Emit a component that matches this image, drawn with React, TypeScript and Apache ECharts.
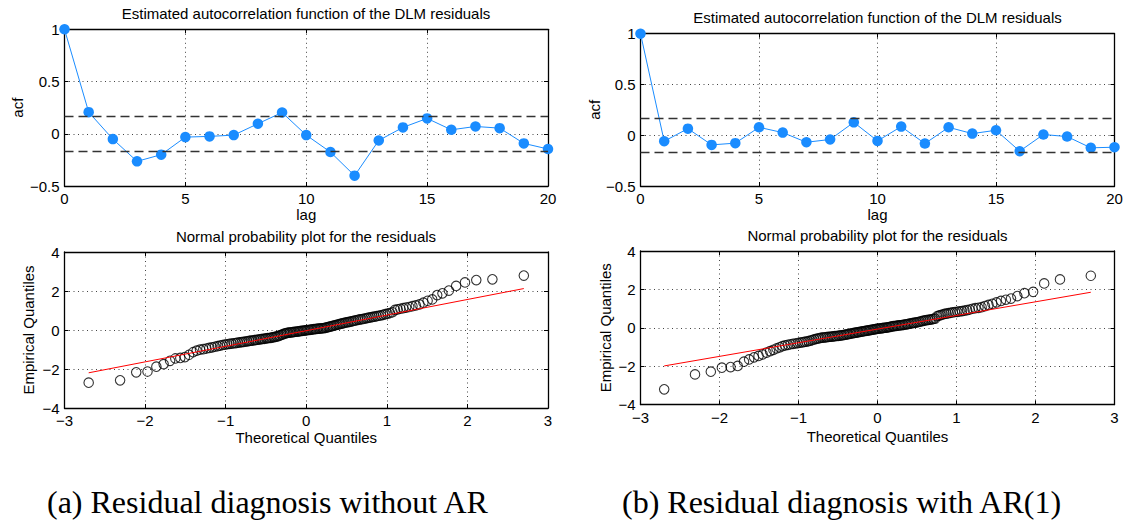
import React, { useEffect, useRef } from "react";
import * as echarts from "echarts";

// ---------- data ----------
const lags = [0, 1, 2, 3, 4, 5, 6, 7, 8, 9, 10, 11, 12, 13, 14, 15, 16, 17, 18, 19, 20];
const acfWithoutAR = [1, 0.207, -0.051, -0.264, -0.2, -0.032, -0.025, -0.013, 0.096, 0.204, -0.013, -0.175, -0.401, -0.064, 0.061, 0.147, 0.038, 0.07, 0.054, -0.092, -0.146];
const acfWithAR1 = [1, -0.059, 0.065, -0.095, -0.078, 0.078, 0.026, -0.069, -0.042, 0.127, -0.056, 0.085, -0.082, 0.078, 0.016, 0.049, -0.157, 0.007, -0.013, -0.124, -0.118];
const confBounds = [0.166, 0.168];

const theoreticalQuantiles = [
  -2.7, -2.31, -2.11, -1.97, -1.86, -1.77, -1.69, -1.625, -1.563, -1.506,
  -1.454, -1.405, -1.36, -1.318, -1.278, -1.239, -1.203, -1.168, -1.134, -1.101,
  -1.07, -1.039, -1.01, -0.981, -0.953, -0.926, -0.9, -0.874, -0.849, -0.824,
  -0.8, -0.776, -0.753, -0.731, -0.708, -0.686, -0.664, -0.643, -0.621, -0.6,
  -0.579, -0.559, -0.538, -0.518, -0.498, -0.479, -0.459, -0.44, -0.421, -0.402,
  -0.383, -0.365, -0.346, -0.328, -0.309, -0.291, -0.273, -0.255, -0.237, -0.219,
  -0.201, -0.184, -0.166, -0.148, -0.131, -0.113, -0.096, -0.078, -0.061, -0.044,
  -0.026, -0.009,
  0.009, 0.026, 0.044, 0.061, 0.078, 0.096, 0.113, 0.131, 0.148, 0.166,
  0.184, 0.201, 0.219, 0.237, 0.255, 0.273, 0.291, 0.309, 0.328, 0.346,
  0.365, 0.383, 0.402, 0.421, 0.44, 0.459, 0.479, 0.498, 0.518, 0.538,
  0.559, 0.579, 0.6, 0.621, 0.643, 0.664, 0.686, 0.708, 0.731, 0.753,
  0.776, 0.8, 0.824, 0.849, 0.874, 0.9, 0.926, 0.953, 0.981, 1.01,
  1.039, 1.07, 1.101, 1.134, 1.168, 1.203, 1.239, 1.278, 1.318, 1.36,
  1.405, 1.454, 1.506, 1.563, 1.625, 1.69, 1.77, 1.86, 1.97, 2.11,
  2.31, 2.7,
];

const residualsWithoutAR = [
  -2.7, -2.58, -2.17, -2.13, -1.88, -1.75, -1.58, -1.46, -1.43, -1.39,
  -1.27, -1.14, -1.06, -1.01, -0.98, -0.95, -0.92, -0.89, -0.86, -0.83,
  -0.8, -0.77, -0.75, -0.73, -0.71, -0.7, -0.68, -0.67, -0.65, -0.64,
  -0.62, -0.61, -0.59, -0.58, -0.56, -0.55, -0.54, -0.52, -0.51, -0.5,
  -0.48, -0.47, -0.46, -0.45, -0.43, -0.42, -0.41, -0.4, -0.38, -0.37,
  -0.35, -0.33, -0.31, -0.28, -0.25, -0.22, -0.19, -0.17, -0.15, -0.14,
  -0.13, -0.12, -0.11, -0.1, -0.09, -0.08, -0.07, -0.06, -0.05, -0.04,
  -0.03, -0.02, -0.01, 0.0, 0.01, 0.02, 0.03, 0.04, 0.05, 0.06,
  0.07, 0.07, 0.08, 0.09, 0.1, 0.11, 0.13, 0.15, 0.17, 0.19,
  0.21, 0.23, 0.25, 0.27, 0.29, 0.31, 0.33, 0.35, 0.37, 0.39,
  0.4, 0.42, 0.44, 0.46, 0.48, 0.5, 0.52, 0.54, 0.55, 0.57,
  0.59, 0.61, 0.63, 0.65, 0.67, 0.69, 0.71, 0.73, 0.75, 0.78,
  0.81, 0.84, 0.87, 0.91, 1.03, 1.06, 1.09, 1.12, 1.15, 1.18,
  1.22, 1.26, 1.31, 1.4, 1.5, 1.57, 1.79, 1.88, 2.02, 2.26,
  2.44, 2.56, 2.6, 2.79,
];

const residualsWithAR1 = [
  -3.21, -2.43, -2.29, -2.08, -2.05, -1.99, -1.77, -1.65, -1.54, -1.47,
  -1.39, -1.3, -1.22, -1.15, -1.08, -1.02, -0.96, -0.92, -0.89, -0.86,
  -0.84, -0.82, -0.8, -0.78, -0.76, -0.74, -0.72, -0.7, -0.67, -0.64,
  -0.61, -0.58, -0.56, -0.54, -0.52, -0.51, -0.5, -0.49, -0.48, -0.47,
  -0.46, -0.45, -0.44, -0.43, -0.42, -0.41, -0.4, -0.39, -0.37, -0.36,
  -0.34, -0.33, -0.31, -0.3, -0.28, -0.27, -0.25, -0.24, -0.23, -0.21,
  -0.2, -0.19, -0.17, -0.16, -0.15, -0.14, -0.12, -0.11, -0.1, -0.09,
  -0.07, -0.06, -0.05, -0.04, -0.03, -0.02, -0.01, 0.0, 0.01, 0.02,
  0.04, 0.05, 0.07, 0.08, 0.09, 0.1, 0.11, 0.12, 0.13, 0.14,
  0.15, 0.17, 0.18, 0.19, 0.21, 0.22, 0.24, 0.25, 0.27, 0.28,
  0.3, 0.32, 0.34, 0.36, 0.38, 0.4, 0.41, 0.42, 0.44, 0.46,
  0.48, 0.6, 0.63, 0.66, 0.69, 0.72, 0.74, 0.76, 0.78, 0.8,
  0.82, 0.83, 0.85, 0.87, 0.89, 0.92, 0.95, 0.99, 1.02, 1.04,
  1.07, 1.13, 1.19, 1.25, 1.32, 1.4, 1.46, 1.52, 1.65, 1.8,
  1.87, 2.31, 2.52, 2.71,
];

const refLineX = [-2.7, 2.7];
const refLineWithoutAR = [-2.195, 2.125];
const refLineWithAR1 = [-1.99, 1.85];

const acfTitle = "Estimated autocorrelation function of the DLM residuals";
const qqTitle = "Normal probability plot for the residuals";
const captions = ["(a) Residual diagnosis without AR", "(b) Residual diagnosis with AR(1)"];

// ---------- styling ----------
const SANS = '"Liberation Sans", Arial, Helvetica, sans-serif';
const SERIF = '"Liberation Serif", "Times New Roman", serif';
const BLUE = "#1a8cff";

const grids = [
  { left: 64.5, top: 29.3, width: 483.5, height: 156.7 },
  { left: 640.5, top: 33.7, width: 474, height: 152.3 },
  { left: 64.5, top: 252, width: 483.5, height: 156 },
  { left: 640.5, top: 251, width: 474, height: 153.5 },
];

const fmt = (v: number) => String(v).replace("-", "\u2212");

function makeAxes(
  g: number,
  xr: [number, number, number],
  yr: [number, number, number],
  xName: string,
  yName: string,
  xGap: number,
  yGap: number
) {
  const line = { show: true, onZero: false, lineStyle: { color: "#000", width: 1.3 } };
  const tick = { show: true, inside: true, length: 4, lineStyle: { color: "#000", width: 1 } };
  const split = { show: true, lineStyle: { color: "#444", type: [1, 3.5], width: 1 } };
  const label = { color: "#000", fontSize: 15, fontFamily: SANS, formatter: fmt };
  const nameStyle = { color: "#000", fontSize: 15, fontFamily: SANS };
  const xAxes = [
    {
      type: "value", gridIndex: g, position: "bottom", min: xr[0], max: xr[1], interval: xr[2],
      axisLine: line, axisTick: tick, splitLine: split,
      axisLabel: { ...label, margin: 5 },
      name: xName, nameLocation: "middle", nameGap: xGap, nameTextStyle: nameStyle,
    },
    {
      type: "value", gridIndex: g, position: "top", min: xr[0], max: xr[1], interval: xr[2],
      axisLine: line, axisTick: tick, splitLine: { show: false }, axisLabel: { show: false },
    },
  ];
  const yAxes = [
    {
      type: "value", gridIndex: g, position: "left", min: yr[0], max: yr[1], interval: yr[2],
      axisLine: line, axisTick: tick, splitLine: split,
      axisLabel: { ...label, margin: 5 },
      name: yName, nameLocation: "middle", nameGap: yGap, nameRotate: 90, nameTextStyle: nameStyle,
    },
    {
      type: "value", gridIndex: g, position: "right", min: yr[0], max: yr[1], interval: yr[2],
      axisLine: line, axisTick: tick, splitLine: { show: false }, axisLabel: { show: false },
    },
  ];
  return { xAxes, yAxes };
}

export default function App() {
  const ref = useRef<HTMLDivElement>(null);

  useEffect(() => {
    if (!ref.current) return;
    const chart = echarts.init(ref.current, undefined, { renderer: "svg" });

    const a0 = makeAxes(0, [0, 20, 5], [-0.5, 1, 0.5], "lag", "acf", 20, 40);
    const a1 = makeAxes(1, [0, 20, 5], [-0.5, 1, 0.5], "lag", "acf", 20, 39);
    const a2 = makeAxes(2, [-3, 3, 1], [-4, 4, 2], "Theoretical Quantiles", "Empirical Quantiles", 22, 29);
    const a3 = makeAxes(3, [-3, 3, 1], [-4, 4, 2], "Theoretical Quantiles", "Empirical Quantiles", 24, 28);

    const acfSeries = (idx: number, vals: number[], conf: number) => ({
      type: "line",
      xAxisIndex: idx * 2,
      yAxisIndex: idx * 2,
      data: lags.map((l, i) => [l, vals[i]]),
      symbol: "circle",
      symbolSize: 10.5,
      lineStyle: { color: BLUE, width: 1 },
      itemStyle: { color: BLUE },
      z: 3,
      markLine: {
        silent: true,
        symbol: ["none", "none"],
        label: { show: false },
        lineStyle: { color: "#333", type: [9, 5], width: 1.3 },
        data: [{ yAxis: conf }, { yAxis: -conf }],
      },
    });

    const qqSeries = (g: number, ys: number[]) => ({
      type: "scatter",
      xAxisIndex: g * 2,
      yAxisIndex: g * 2,
      data: theoreticalQuantiles.map((x, i) => [x, ys[i]]),
      symbol: "circle",
      symbolSize: 9.5,
      itemStyle: { color: "rgba(0,0,0,0)", borderColor: "#000", borderWidth: 1.1 },
      z: 2,
    });

    const refSeries = (g: number, ys: number[]) => ({
      type: "line",
      xAxisIndex: g * 2,
      yAxisIndex: g * 2,
      data: refLineX.map((x, i) => [x, ys[i]]),
      symbol: "none",
      lineStyle: { color: "#ff0000", width: 1 },
      z: 4,
    });

    const titleText = (x: number, y: number, text: string) => ({
      type: "text",
      x,
      y,
      style: {
        text,
        fill: "#000",
        fontSize: 15,
        fontFamily: SANS,
        textAlign: "center",
        textVerticalAlign: "middle",
        align: "center",
        verticalAlign: "middle",
      },
    });

    const captionText = (x: number, y: number, text: string) => ({
      type: "text",
      x,
      y,
      style: {
        text,
        fill: "#000",
        fontSize: 32,
        fontFamily: SERIF,
        textAlign: "left",
        textVerticalAlign: "middle",
        align: "left",
        verticalAlign: "middle",
      },
    });

    chart.setOption({
      animation: false,
      backgroundColor: "#fff",
      grid: grids,
      xAxis: [...a0.xAxes, ...a1.xAxes, ...a2.xAxes, ...a3.xAxes],
      yAxis: [...a0.yAxes, ...a1.yAxes, ...a2.yAxes, ...a3.yAxes],
      series: [
        acfSeries(0, acfWithoutAR, confBounds[0]),
        acfSeries(1, acfWithAR1, confBounds[1]),
        qqSeries(2, residualsWithoutAR),
        refSeries(2, refLineWithoutAR),
        qqSeries(3, residualsWithAR1),
        refSeries(3, refLineWithAR1),
      ],
      graphic: [
        titleText(306, 13.5, acfTitle),
        titleText(877.5, 17, acfTitle),
        titleText(306, 236, qqTitle),
        titleText(877.5, 235.5, qqTitle),
        captionText(47, 502, captions[0]),
        captionText(622, 502, captions[1]),
      ],
    } as any);

    return () => chart.dispose();
  }, []);

  return (
    <div
      ref={ref}
      style={{ position: "fixed", left: 0, top: 0, width: 1131, height: 525, background: "#fff" }}
    />
  );
}
